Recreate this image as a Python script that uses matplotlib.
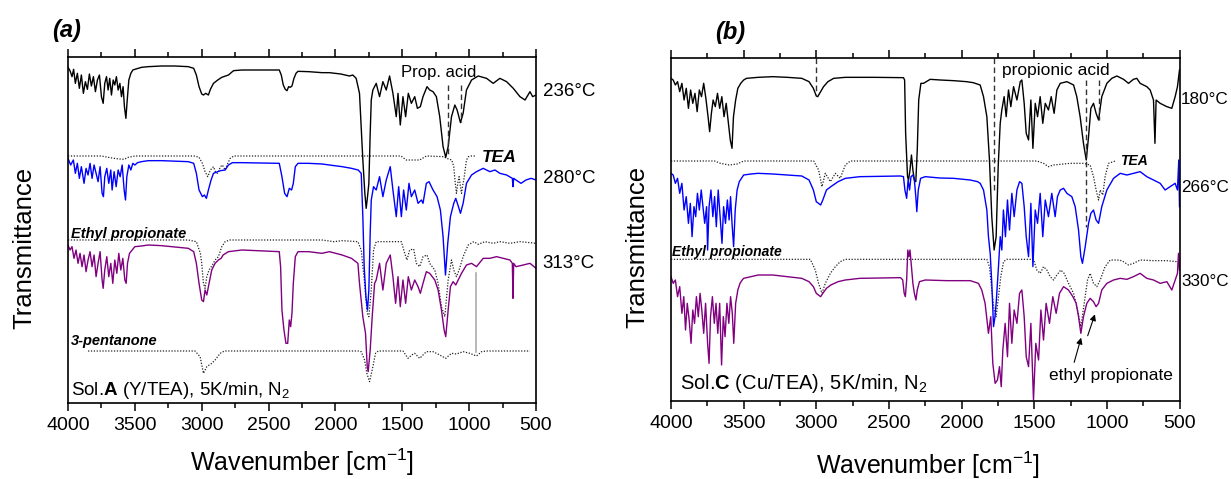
import numpy as np
import matplotlib
matplotlib.use("Agg")
import matplotlib.pyplot as plt
from matplotlib.ticker import MultipleLocator

plt.rcParams['font.family'] = ['Liberation Sans', 'DejaVu Sans']
plt.rcParams['mathtext.fontset'] = 'custom'
plt.rcParams['mathtext.rm'] = 'Liberation Sans'
plt.rcParams['mathtext.bf'] = 'Liberation Sans:bold'

# spectra: (wavenumber, signal) -- signal is read off the picture, larger = lower on the plot
# ---------- panel (a): Sol.A (Y/TEA) ----------
a_236 = [(4000, 52), (3985, 62), (3970, 80), (3958, 58), (3945, 100), (3930, 70), (3915, 115),
         (3900, 75), (3885, 130), (3870, 95), (3855, 118), (3840, 72), (3825, 108), (3810, 80),
         (3795, 125), (3780, 90), (3765, 75), (3750, 140), (3737, 160), (3725, 100), (3712, 80),
         (3700, 120), (3688, 85), (3675, 135), (3662, 90), (3650, 105), (3638, 80), (3625, 120),
         (3612, 100), (3600, 140), (3588, 110), (3578, 170), (3567, 205), (3557, 150), (3545, 90),
         (3530, 70), (3515, 60), (3500, 58), (3450, 52), (3400, 50), (3300, 48), (3200, 48),
         (3100, 50), (3060, 55), (3040, 75), (3020, 110), (3000, 132), (2987, 135), (2970, 130),
         (2950, 135), (2935, 118), (2912, 100), (2880, 90), (2850, 82), (2820, 78), (2800, 75),
         (2762, 62), (2700, 60), (2500, 60), (2420, 60), (2405, 75), (2390, 105), (2375, 118),
         (2362, 122), (2350, 110), (2338, 112), (2325, 108), (2310, 85), (2295, 70), (2280, 64),
         (2200, 65), (2100, 68), (2045, 68), (1960, 72), (1895, 78), (1870, 75), (1845, 85),
         (1820, 130), (1795, 330), (1780, 430), (1770, 475), (1760, 440), (1750, 400), (1740, 250),
         (1732, 150), (1720, 120), (1695, 100), (1670, 140), (1645, 95), (1620, 120), (1595, 78),
         (1570, 130), (1545, 200), (1532, 130), (1515, 225), (1495, 140), (1475, 200), (1455, 130),
         (1432, 160), (1407, 140), (1387, 175), (1365, 170), (1345, 140), (1315, 110), (1295, 120),
         (1270, 125), (1245, 140), (1220, 200), (1195, 290), (1175, 322), (1157, 290), (1132, 200),
         (1107, 165), (1090, 180), (1065, 218), (1045, 190), (1020, 120), (982, 90), (932, 78),
         (870, 85), (820, 100), (770, 85), (720, 95), (670, 115), (620, 140), (582, 150),
         (545, 125), (525, 140), (500, 135)]

a_280 = [(4000, 325), (3980, 345), (3960, 330), (3945, 370), (3930, 340), (3915, 385), (3900, 350),
         (3880, 400), (3865, 355), (3850, 375), (3835, 340), (3820, 385), (3805, 345), (3790, 370),
         (3775, 395), (3760, 350), (3745, 430), (3735, 440), (3725, 380), (3710, 355), (3695, 400),
         (3680, 360), (3670, 420), (3655, 365), (3640, 410), (3625, 360), (3610, 380), (3595, 345),
         (3580, 420), (3570, 450), (3560, 380), (3545, 345), (3530, 360), (3515, 340), (3500, 345),
         (3480, 338), (3450, 335), (3400, 332), (3300, 332), (3100, 335), (3060, 340), (3040, 370),
         (3020, 420), (2995, 440), (2980, 435), (2965, 445), (2950, 420), (2930, 390), (2912, 370),
         (2880, 365), (2860, 362), (2825, 360), (2800, 345), (2770, 338), (2700, 338), (2420, 340),
         (2400, 380), (2380, 430), (2362, 440), (2345, 415), (2328, 420), (2315, 400), (2300, 350),
         (2280, 340), (2200, 340), (2100, 342), (2045, 345), (1950, 350), (1880, 355), (1830, 360),
         (1807, 370), (1795, 500), (1785, 650), (1772, 740), (1760, 780), (1750, 720), (1740, 550),
         (1732, 450), (1715, 410), (1695, 420), (1670, 380), (1645, 440), (1620, 390), (1590, 350),
         (1570, 420), (1545, 500), (1527, 410), (1507, 500), (1490, 420), (1470, 480), (1450, 400),
         (1432, 440), (1407, 420), (1382, 460), (1357, 450), (1345, 460), (1320, 400), (1300, 395),
         (1270, 420), (1240, 440), (1215, 480), (1195, 560), (1177, 675), (1160, 580), (1140, 500),
         (1115, 460), (1100, 445), (1080, 470), (1065, 490), (1045, 460), (1020, 400), (982, 375),
         (945, 365), (895, 355), (845, 365), (807, 360), (770, 370), (720, 375), (677, 385),
         (672, 410), (667, 385), (650, 390), (612, 400), (575, 390), (537, 385), (500, 390)]

a_313 = [(4000, 585), (3985, 600), (3970, 590), (3955, 625), (3940, 600), (3925, 640), (3910, 610),
         (3895, 650), (3880, 615), (3865, 665), (3850, 630), (3835, 605), (3820, 650), (3805, 615),
         (3790, 680), (3775, 640), (3760, 605), (3745, 690), (3737, 715), (3725, 660), (3710, 620),
         (3695, 680), (3680, 640), (3665, 700), (3650, 630), (3635, 670), (3620, 610), (3605, 660),
         (3590, 625), (3575, 690), (3565, 700), (3555, 640), (3540, 610), (3520, 600), (3500, 590),
         (3450, 588), (3400, 585), (3300, 587), (3100, 595), (3060, 605), (3040, 640), (3020, 700),
         (3000, 750), (2987, 755), (2975, 720), (2962, 735), (2945, 700), (2925, 660), (2900, 640),
         (2875, 630), (2855, 625), (2840, 615), (2800, 605), (2700, 600), (2420, 605), (2410, 650),
         (2400, 780), (2385, 840), (2370, 880), (2357, 880), (2345, 810), (2335, 830), (2325, 790),
         (2315, 700), (2300, 620), (2280, 605), (2200, 605), (2100, 610), (2045, 605), (1950, 615),
         (1880, 625), (1832, 640), (1820, 700), (1795, 800), (1775, 850), (1762, 950), (1755, 965),
         (1740, 900), (1725, 800), (1707, 700), (1695, 690), (1670, 640), (1645, 720), (1620, 640),
         (1590, 615), (1570, 680), (1550, 760), (1532, 680), (1515, 770), (1495, 690), (1475, 760),
         (1455, 680), (1432, 720), (1407, 690), (1382, 710), (1365, 730), (1345, 700), (1320, 665),
         (1295, 670), (1257, 690), (1232, 720), (1207, 780), (1187, 840), (1175, 860), (1157, 780),
         (1140, 710), (1120, 695), (1100, 705), (1082, 690), (1057, 670), (1020, 645), (982, 640),
         (945, 650), (895, 625), (845, 625), (795, 620), (745, 625), (695, 630), (677, 640),
         (672, 745), (667, 640), (650, 650), (595, 645), (545, 640), (500, 655)]

a_tea = [(4000, 318), (3750, 318), (3700, 322), (3640, 326), (3580, 328), (3550, 322), (3500, 318),
         (3050, 318), (3020, 322), (2995, 340), (2975, 365), (2955, 380), (2935, 360), (2912, 350),
         (2895, 368), (2880, 370), (2860, 350), (2845, 345), (2825, 360), (2805, 340), (2787, 325),
         (2760, 318), (1510, 318), (1470, 330), (1400, 330), (1370, 330), (1320, 318), (1190, 320),
         (1170, 325), (1130, 330), (1115, 350), (1105, 395), (1095, 430), (1085, 400), (1075, 380),
         (1065, 410), (1057, 430), (1048, 405), (1040, 390), (1030, 360), (1020, 330), (1005, 320),
         (985, 318), (950, 318)]

a_ethprop = [(4000, 570), (3100, 570), (3040, 575), (3010, 610), (3000, 640), (2987, 700), (2975, 715),
             (2962, 680), (2945, 660), (2920, 645), (2900, 630), (2875, 620), (2850, 590), (2825, 575),
             (2790, 570), (2100, 570), (2012, 575), (1950, 572), (1832, 575), (1807, 600), (1782, 700),
             (1762, 790), (1750, 800), (1732, 720), (1715, 600), (1695, 575), (1507, 575), (1482, 610),
             (1465, 630), (1445, 600), (1415, 597), (1395, 640), (1370, 650), (1345, 620), (1315, 615),
             (1295, 640), (1257, 660), (1232, 700), (1207, 770), (1182, 800), (1157, 690), (1132, 630),
             (1115, 660), (1095, 680), (1075, 660), (1045, 620), (1007, 585), (965, 575), (932, 583),
             (882, 575), (820, 580), (770, 575), (695, 580), (620, 575), (545, 578), (500, 580)]

a_pentanone = [(3850, 903), (3050, 903), (3012, 920), (2987, 970), (2962, 950), (2925, 940), (2900, 930),
               (2862, 910), (2830, 903), (1830, 903), (1807, 905), (1782, 930), (1765, 970), (1745, 995),
               (1725, 960), (1700, 910), (1680, 903), (1495, 903), (1457, 925), (1430, 915), (1407, 910),
               (1370, 925), (1320, 905), (1270, 905), (1220, 915), (1175, 925), (1132, 910), (1095, 912),
               (1045, 905), (995, 910), (945, 918), (907, 905), (870, 903), (545, 903)]

a_acid_marks = [(1157, 105, 320), (1062, 105, 215)]

# ---------- panel (b): Sol.C (Cu/TEA) ----------
b_180 = [(4000, 85), (3985, 90), (3970, 105), (3955, 95), (3940, 125), (3925, 100), (3910, 150),
         (3895, 115), (3880, 175), (3865, 120), (3850, 160), (3835, 130), (3820, 185), (3805, 120),
         (3790, 140), (3775, 100), (3760, 145), (3745, 200), (3734, 245), (3722, 190), (3710, 150),
         (3695, 170), (3680, 130), (3665, 175), (3650, 140), (3635, 200), (3620, 160), (3605, 220),
         (3592, 270), (3580, 295), (3570, 200), (3555, 150), (3540, 115), (3520, 100), (3500, 90),
         (3480, 85), (3400, 82), (3300, 80), (3200, 82), (3100, 85), (3050, 95), (3020, 115),
         (3000, 138), (2990, 140), (2970, 125), (2950, 110), (2920, 95), (2880, 85), (2800, 82),
         (2600, 82), (2400, 83), (2392, 90), (2385, 250), (2372, 380), (2365, 390), (2355, 360),
         (2345, 315), (2335, 360), (2325, 390), (2315, 395), (2305, 300), (2295, 150), (2280, 100),
         (2262, 100), (2216, 88), (2147, 90), (2055, 92), (1966, 95), (1920, 98), (1872, 105),
         (1849, 140), (1826, 200), (1808, 330), (1792, 500), (1776, 600), (1762, 560), (1748, 350),
         (1734, 220), (1723, 180), (1707, 140), (1693, 200), (1677, 120), (1661, 170), (1642, 110),
         (1619, 150), (1596, 95), (1585, 90), (1569, 160), (1555, 250), (1539, 270), (1523, 150),
         (1509, 295), (1493, 160), (1477, 200), (1459, 140), (1441, 220), (1424, 160), (1402, 180),
         (1383, 140), (1363, 190), (1344, 120), (1321, 100), (1275, 95), (1229, 105), (1207, 140),
         (1184, 200), (1161, 280), (1142, 330), (1126, 260), (1110, 175), (1092, 160), (1074, 190),
         (1057, 210), (1035, 140), (1000, 100), (966, 85), (931, 78), (885, 88), (851, 100),
         (817, 88), (794, 85), (771, 100), (725, 110), (702, 120), (679, 150), (669, 280),
         (661, 150), (633, 160), (587, 170), (553, 175), (530, 140), (514, 110), (500, 60)]

b_266 = [(4000, 370), (3985, 375), (3970, 400), (3955, 385), (3940, 430), (3925, 400), (3910, 480),
         (3895, 440), (3880, 520), (3867, 460), (3855, 560), (3842, 470), (3830, 500), (3818, 430),
         (3805, 480), (3792, 420), (3780, 470), (3768, 520), (3755, 470), (3748, 600), (3738, 470),
         (3725, 420), (3712, 500), (3700, 440), (3688, 530), (3675, 420), (3662, 500), (3649, 580),
         (3638, 470), (3625, 520), (3612, 450), (3600, 510), (3590, 440), (3580, 520), (3569, 590),
         (3558, 480), (3545, 420), (3530, 395), (3515, 385), (3500, 375), (3450, 372), (3400, 370),
         (3300, 372), (3200, 375), (3100, 378), (3050, 390), (3020, 420), (3000, 455), (2985, 460),
         (2970, 465), (2955, 450), (2930, 420), (2900, 410), (2850, 395), (2800, 385), (2700, 380),
         (2420, 378), (2400, 380), (2390, 420), (2378, 445), (2368, 390), (2358, 420), (2348, 380),
         (2335, 375), (2325, 390), (2315, 440), (2308, 485), (2298, 420), (2282, 385), (2250, 380),
         (2150, 384), (2055, 385), (1940, 390), (1890, 395), (1872, 400), (1849, 420), (1826, 480),
         (1815, 560), (1803, 610), (1792, 700), (1780, 830), (1770, 800), (1762, 760), (1746, 650),
         (1734, 560), (1723, 600), (1712, 480), (1698, 560), (1684, 450), (1670, 540), (1654, 430),
         (1638, 500), (1619, 420), (1601, 395), (1585, 400), (1569, 470), (1555, 560), (1539, 620),
         (1523, 460), (1509, 650), (1493, 480), (1477, 520), (1459, 430), (1441, 560), (1424, 450),
         (1402, 500), (1379, 430), (1356, 500), (1340, 440), (1321, 420), (1298, 415), (1275, 430),
         (1241, 440), (1218, 470), (1195, 540), (1179, 620), (1168, 640), (1149, 590), (1126, 520),
         (1110, 490), (1092, 480), (1074, 510), (1057, 520), (1035, 470), (1000, 420), (954, 385),
         (908, 370), (862, 375), (817, 370), (771, 365), (725, 380), (679, 390), (633, 400),
         (599, 420), (564, 410), (530, 400), (514, 420), (505, 330), (500, 470)]

b_330 = [(4000, 680), (3985, 700), (3970, 690), (3955, 740), (3940, 710), (3925, 790), (3912, 740),
         (3900, 840), (3888, 760), (3875, 810), (3862, 880), (3850, 780), (3838, 820), (3825, 740),
         (3812, 800), (3800, 730), (3788, 780), (3775, 850), (3762, 760), (3748, 880), (3738, 940),
         (3728, 800), (3715, 740), (3702, 820), (3690, 760), (3678, 850), (3665, 760), (3652, 945),
         (3640, 800), (3628, 860), (3615, 760), (3602, 820), (3590, 740), (3578, 790), (3568, 880),
         (3555, 760), (3540, 720), (3525, 700), (3510, 690), (3500, 685), (3450, 680), (3400, 675),
         (3300, 675), (3200, 680), (3100, 685), (3050, 695), (3020, 710), (3000, 730), (2985, 735),
         (2970, 740), (2955, 730), (2930, 715), (2900, 705), (2850, 695), (2800, 690), (2700, 685),
         (2420, 683), (2405, 690), (2395, 730), (2387, 740), (2378, 690), (2370, 600), (2362, 620),
         (2355, 600), (2345, 650), (2335, 700), (2325, 730), (2314, 750), (2305, 720), (2290, 695),
         (2250, 690), (2100, 692), (1940, 692), (1884, 700), (1861, 720), (1838, 760), (1815, 850),
         (1799, 800), (1785, 940), (1769, 1000), (1753, 990), (1739, 950), (1727, 1010), (1716, 900),
         (1700, 820), (1684, 920), (1670, 760), (1654, 880), (1638, 780), (1619, 820), (1601, 730),
         (1585, 720), (1569, 800), (1555, 920), (1539, 950), (1523, 820), (1505, 1050), (1489, 880),
         (1470, 930), (1454, 780), (1436, 870), (1418, 760), (1395, 820), (1372, 740), (1349, 790),
         (1326, 730), (1298, 710), (1264, 720), (1234, 740), (1211, 760), (1195, 800), (1179, 850),
         (1161, 800), (1138, 760), (1115, 745), (1092, 755), (1074, 770), (1057, 760), (1035, 720),
         (1000, 700), (954, 690), (908, 685), (862, 688), (817, 680), (771, 670), (725, 685),
         (679, 690), (633, 700), (587, 695), (553, 720), (530, 690), (514, 670), (507, 610),
         (500, 660)]

b_tea = [(4000, 333), (3700, 333), (3660, 340), (3600, 345), (3545, 342), (3500, 333), (3018, 333),
         (2984, 360), (2961, 410), (2938, 370), (2903, 395), (2869, 370), (2835, 385), (2800, 345),
         (2766, 333), (1482, 333), (1436, 340), (1402, 350), (1367, 345), (1252, 340), (1161, 340),
         (1115, 345), (1092, 380), (1074, 420), (1057, 450), (1046, 420), (1028, 435), (1012, 380),
         (989, 340), (954, 335), (945, 333)]

b_ethprop = [(4000, 628), (3041, 628), (3007, 660), (2984, 700), (2961, 730), (2938, 700), (2903, 670),
             (2869, 650), (2835, 635), (2800, 628), (1826, 628), (1808, 650), (1792, 720), (1776, 780),
             (1762, 800), (1746, 740), (1730, 680), (1711, 635), (1690, 628), (1505, 628), (1482, 660),
             (1459, 670), (1436, 650), (1413, 660), (1390, 680), (1367, 690), (1344, 675), (1317, 660),
             (1294, 670), (1264, 700), (1229, 730), (1202, 780), (1179, 830), (1156, 760), (1133, 690),
             (1115, 670), (1092, 700), (1069, 710), (1046, 690), (1012, 650), (977, 630), (931, 630),
             (897, 632), (851, 645), (817, 640), (771, 630), (679, 632), (587, 632), (518, 635),
             (500, 640)]

b_acid_marks = [(3000, 25, 135), (1775, 25, 420), (1142, 90, 530), (1057, 90, 210)]

PURPLE = '#800080'
BLUE = '#0000ff'


def draw(ax, data, **kw):
    wn, val = zip(*data)
    ax.plot(wn, val, **kw)


def style(ax, ylim):
    ax.set_xlim(4000, 500)
    ax.set_ylim(*ylim)
    ax.xaxis.set_major_locator(MultipleLocator(500))
    ax.xaxis.set_minor_locator(MultipleLocator(250))
    ax.tick_params(axis='x', which='both', direction='out', top=True, bottom=True,
                   labeltop=False, labelsize=14, width=1.1)
    ax.tick_params(axis='x', which='major', length=6, pad=4)
    ax.tick_params(axis='x', which='minor', length=3.5)
    ax.set_yticks([])
    for s in ax.spines.values():
        s.set_linewidth(1.2)


fig = plt.figure(figsize=(12.31, 4.79), dpi=100)
W, H = 1231.0, 479.0
axa = fig.add_axes([68 / W, 1 - 403 / H, 468 / W, 346 / H])
axb = fig.add_axes([671 / W, 1 - 401 / H, 508.5 / W, 343 / H])

dot = dict(color='#222222', lw=0.9, ls=(0, (1, 1.3)))
dash = dict(color='#333333', lw=1.0, ls=(0, (4, 2.5)))

# panel (a)
draw(axa, a_tea, **dot)
draw(axa, a_ethprop, **dot)
draw(axa, a_pentanone, **dot)
draw(axa, a_236, color='black', lw=1.0)
draw(axa, a_280, color=BLUE, lw=1.0)
draw(axa, a_313, color=PURPLE, lw=1.0)
for x, y0, y1 in a_acid_marks:
    axa.plot([x, x], [y0, y1], **dash)
axa.plot([945, 945], [670, 905], color='#aaaaaa', lw=1.2)
style(axa, (1059, 21))
axa.text(1230, 68, 'Prop. acid', fontsize=12, ha='center', va='center')
axa.text(907, 322, 'TEA', fontsize=12.5, fontweight='bold', style='italic', ha='left', va='center')
axa.text(3975, 552, 'Ethyl propionate', fontsize=10.5, fontweight='bold', style='italic', va='center')
axa.text(3975, 872, '3-pentanone', fontsize=10.5, fontweight='bold', style='italic', va='center')
axa.text(3975, 1022, r'Sol.$\mathbf{A}$ (Y/TEA), 5K/min, N$_2$', fontsize=13.5, va='center')
for lbl, y in [('236°C', 125), ('280°C', 385), ('313°C', 640)]:
    axa.text(1.014, y, lbl, transform=axa.get_yaxis_transform(), fontsize=13.5,
             ha='left', va='center', clip_on=False)

# panel (b)
draw(axb, b_tea, **dot)
draw(axb, b_ethprop, **dot)
draw(axb, b_180, color='black', lw=1.0)
draw(axb, b_266, color=BLUE, lw=1.0)
draw(axb, b_330, color=PURPLE, lw=1.0)
for x, y0, y1 in b_acid_marks:
    axb.plot([x, x], [y0, y1], **dash)
style(axb, (1053, 24))
axb.text(1351, 62, 'propionic acid', fontsize=12.5, ha='center', va='center')
axb.text(908, 333, 'TEA', fontsize=10, fontweight='bold', style='italic', ha='left', va='center')
axb.text(3995, 605, 'Ethyl propionate', fontsize=10, fontweight='bold', style='italic', va='center')
axb.text(3936, 1000, r'Sol.$\mathbf{C}$ (Cu/TEA), 5K/min, N$_2$', fontsize=14.5, va='center')
axb.text(973, 975, 'ethyl propionate', fontsize=12.5, ha='center', va='center')
axb.annotate('', xy=(1172, 855), xytext=(1230, 945),
             arrowprops=dict(arrowstyle='-|>', color='black', lw=0.8, mutation_scale=9))
axb.annotate('', xy=(1076, 785), xytext=(1138, 865),
             arrowprops=dict(arrowstyle='-|>', color='black', lw=0.8, mutation_scale=9))
for lbl, y in [('180°C', 147), ('266°C', 413), ('330°C', 694)]:
    axb.text(1.003, y, lbl, transform=axb.get_yaxis_transform(), fontsize=12.3,
             ha='left', va='center', clip_on=False)

# titles and axis labels
fig.text(67 / W, 1 - 31 / H, '(a)', fontsize=17, fontweight='bold', style='italic', ha='center', va='center')
fig.text(730 / W, 1 - 32 / H, '(b)', fontsize=17, fontweight='bold', style='italic', ha='center', va='center')
fig.text(24 / W, 1 - 248 / H, 'Transmittance', fontsize=18.5, rotation=90, ha='center', va='center')
fig.text(637 / W, 1 - 247 / H, 'Transmittance', fontsize=18.5, rotation=90, ha='center', va='center')
fig.text(302 / W, 1 - 462 / H, r'Wavenumber [cm$^{-1}$]', fontsize=18, ha='center', va='center')
fig.text(928 / W, 1 - 465 / H, r'Wavenumber [cm$^{-1}$]', fontsize=18, ha='center', va='center')

fig.savefig('out.png', dpi=100)
